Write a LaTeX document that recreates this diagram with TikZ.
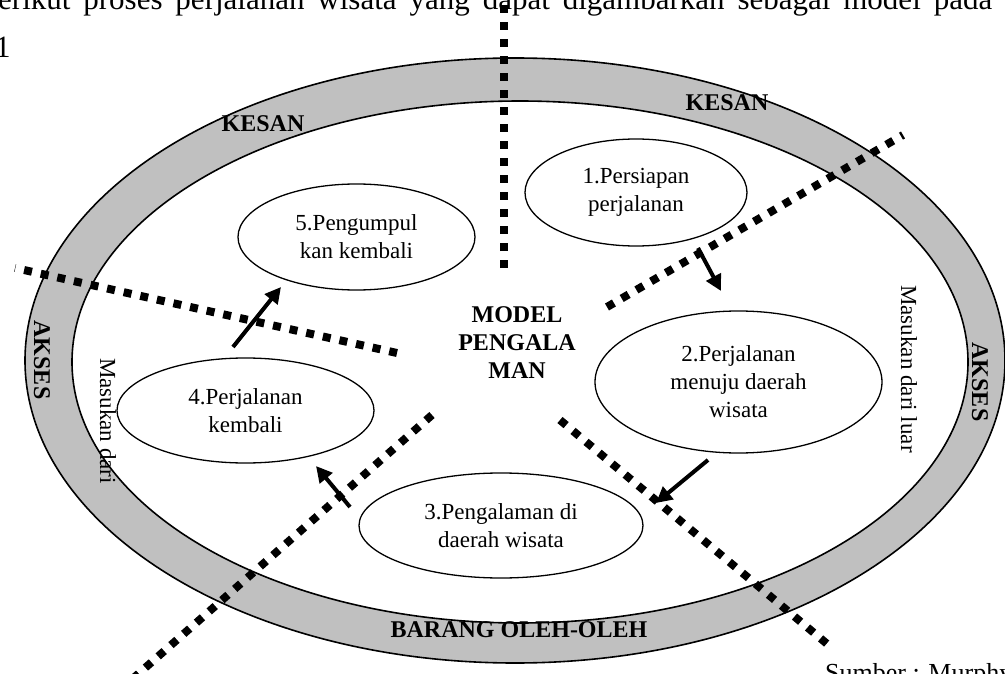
\documentclass[tikz,border=0pt]{standalone}
\usepackage{fontspec}
\setmainfont{Liberation Serif}
\usetikzlibrary{shapes.geometric,arrows.meta}
\definecolor{ringgray}{HTML}{C0C0C0}
\tikzset{
  stage/.style={ellipse, draw, line width=1.3pt, inner sep=0pt, align=center,
    font=\fontsize{23}{28}\selectfont},
  ringlabel/.style={font=\bfseries\fontsize{24}{28}\selectfont, inner sep=0pt, align=center},
  sidetext/.style={font=\fontsize{23}{24}\selectfont, inner sep=0pt, rotate=-90},
  bodytext/.style={font=\fontsize{31}{31}\selectfont, inner sep=0pt},
  boundary/.style={line width=8pt, dash pattern=on 8pt off 9pt},
  flow/.style={line width=4pt, -{Triangle[length=16pt,width=16pt]}},
}
\begin{document}
\begin{tikzpicture}[x=1pt, y=-1pt]
  \useasboundingbox (0,0) rectangle (1005,674);
  \clip (0,0) rectangle (1005,674);

  % surrounding text of the page
  \node[bodytext, anchor=base west] (para) at (-2,10)
    {\makebox[994pt][s]{erikut proses perjalanan wisata yang dapat digambarkan sebagai model pada}};
  \node[bodytext, anchor=base west] (fignum) at (-5,58) {1};
  \node[font=\fontsize{26}{26}\selectfont, inner sep=0pt, anchor=base west] (source) at (825,681) {Sumber : Murphy};

  % the grey ring
  \fill[ringgray, even odd rule]
    (515,360.5) ellipse [x radius=490pt, y radius=302.5pt]
    (520,362) ellipse [x radius=448pt, y radius=261pt];
  \draw[line width=1.6pt] (515,360.5) ellipse [x radius=490pt, y radius=302.5pt];
  \draw[line width=1.6pt] (520,362) ellipse [x radius=448pt, y radius=261pt];

  % dividing lines between the phases
  \coordinate (vIn) at (504,268);   \coordinate (vOut) at (504,-12);
  \coordinate (urIn) at (607,307);  \coordinate (urOut) at (903,135);
  \coordinate (lrIn) at (560,420);  \coordinate (lrOut) at (832,648);
  \coordinate (llIn) at (432,415);  \coordinate (llOut) at (120,690);
  \coordinate (ulIn) at (397,353);  \coordinate (ulOut) at (15,268);
  \draw[boundary] (vIn) -- (vOut);
  \draw[boundary] (urIn) -- (urOut);
  \draw[boundary] (lrIn) -- (lrOut);
  \draw[boundary] (llIn) -- (llOut);
  \draw[boundary] (ulIn) -- (ulOut);

  % ring labels
  \node[ringlabel] (kesanL) at (263,124) {KESAN};
  \node[ringlabel] (kesanR) at (727,103) {KESAN};
  \node[ringlabel] (barang) at (519,630) {BARANG OLEH-OLEH};
  \node[ringlabel, rotate=-90] (aksesL) at (42,360) {AKSES};
  \node[ringlabel, rotate=-90] (aksesR) at (980,382) {AKSES};
  \node[sidetext] (inL) at (108,421) {Masukan dari};
  \node[sidetext] (inR) at (909,369) {Masukan dari luar};

  % centre title
  \node[ringlabel] (model) at (517,343) {MODEL\\PENGALA\\MAN};

  % the five phases
  \node[stage, minimum width=222pt, minimum height=107pt] (s1) at (636,192.5) {1.Persiapan\\perjalanan};
  \node[stage, minimum width=287pt, minimum height=142pt] (s2) at (738.5,382) {2.Perjalanan\\menuju daerah\\wisata};
  \node[stage, minimum width=284pt, minimum height=105pt] (s3) at (501,525.5) {3.Pengalaman di\\daerah wisata};
  \node[stage, minimum width=257pt, minimum height=105pt] (s4) at (245.5,410.5) {4.Perjalanan\\kembali};
  \node[stage, minimum width=237pt, minimum height=106pt] (s5) at (356.5,237) {5.Pengumpul\\kan kembali};

  % flow between the phases
  \coordinate (a12s) at (698,248);  \coordinate (a12e) at (721,291);
  \coordinate (a23s) at (708,460);  \coordinate (a23e) at (656,503);
  \coordinate (a34s) at (350,507);  \coordinate (a34e) at (316,466);
  \coordinate (a45s) at (233,347);  \coordinate (a45e) at (281,287);
  \draw[flow] (a12s) -- (a12e);
  \draw[flow] (a23s) -- (a23e);
  \draw[flow] (a34s) -- (a34e);
  \draw[flow] (a45s) -- (a45e);
\end{tikzpicture}
\end{document}
